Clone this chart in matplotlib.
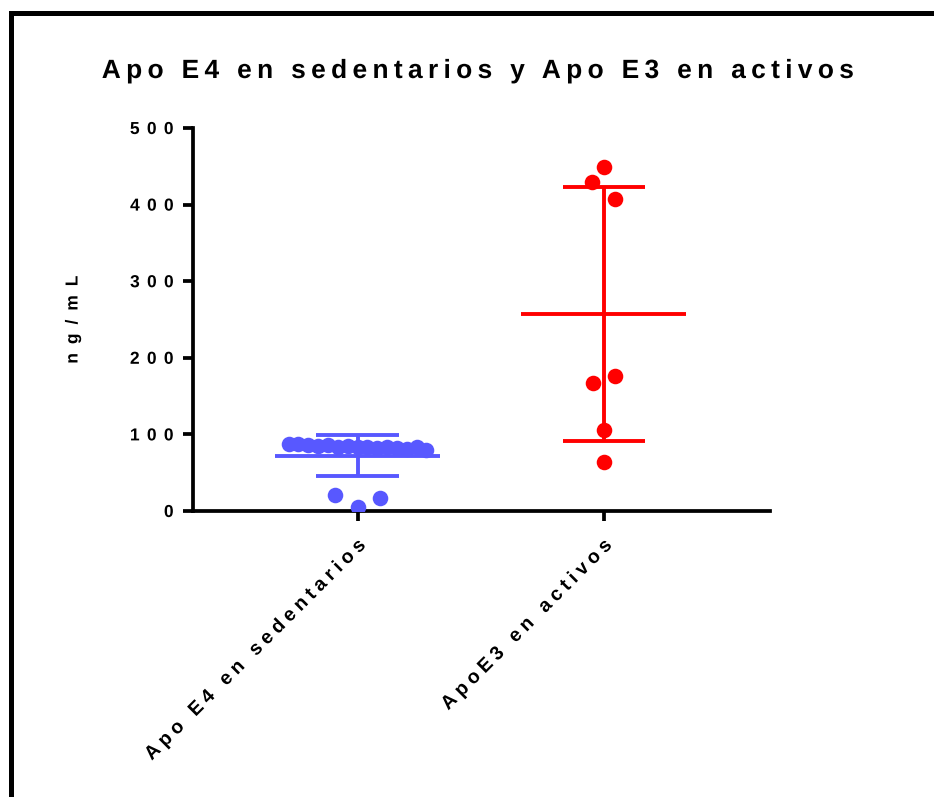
import numpy as np
import matplotlib
matplotlib.use("Agg")
import matplotlib.pyplot as plt
from matplotlib.lines import Line2D
from matplotlib.path import Path
from matplotlib.patheffects import AbstractPathEffect
from matplotlib.textpath import text_to_path
from matplotlib.font_manager import findfont, get_font

# ---------------- data ----------------
title = "Apo E4 en sedentarios y Apo E3 en activos"
ylabel = "ng/mL"
categories = ["Apo E4 en sedentarios", "ApoE3 en activos"]
sedentarios = [5.6, 16.6, 21.3,
               84, 83, 85, 82, 84, 83, 86, 82, 85, 81, 86, 84, 87, 80, 88]
activos = [64.4, 105.7, 167.5, 176.6, 449.5, 407.0, 429.5]
yticks = [0, 100, 200, 300, 400, 500]
colors = ["#5858FF", "#FF0000"]

plt.rcParams["font.family"] = ["Liberation Sans", "DejaVu Sans"]
plt.rcParams["font.weight"] = "bold"


class Tracking(AbstractPathEffect):
    """Draw a Text with extra letter spacing (tracking), keeping alignment."""

    def __init__(self, text_artist, track_px, align):
        super().__init__()
        self.t = text_artist
        self.track_px = track_px
        self.align = align

    def draw_path(self, renderer, gc, tpath, affine, rgbFace=None):
        s = self.t.get_text()
        fp = self.t.get_fontproperties()
        font = get_font(findfont(fp))
        font.set_size(text_to_path.FONT_SCALE, text_to_path.DPI)
        info, _, _ = text_to_path.get_glyphs_with_font(font, s)
        xpos = np.array([g[1] for g in info], float)
        n = len(xpos)
        fs_px = renderer.points_to_pixels(fp.get_size_in_points())
        track = self.track_px / fs_px * text_to_path.FONT_SCALE
        verts = np.array(tpath.vertices, float).copy()
        codes = tpath.codes
        if codes is None or n == 0:
            renderer.draw_path(gc, tpath, affine, rgbFace)
            return
        starts = list(np.where(codes == Path.MOVETO)[0]) + [len(verts)]
        for a, b in zip(starts[:-1], starts[1:]):
            seg = verts[a:b]
            m = codes[a:b] != Path.CLOSEPOLY
            if not m.any():
                continue
            c = 0.5 * (seg[m, 0].min() + seg[m, 0].max())
            idx = max(int(np.searchsorted(xpos, c, side="right")) - 1, 0)
            verts[a:b, 0] += track * idx
        verts[:, 0] -= track * (n - 1) * self.align
        renderer.draw_path(gc, Path(verts, codes), affine, rgbFace)


def track(text_artist, px, align):
    text_artist.set_path_effects([Tracking(text_artist, px, align)])


W, H, DPI = 934, 797, 100
fig = plt.figure(figsize=(W / DPI, H / DPI), dpi=DPI)
left, right, bottom, top = 193 / W, 770 / W, 1 - 511 / H, 1 - 128 / H
ax = fig.add_axes([left, bottom, right - left, top - bottom])

ymax = 500
ax.set_ylim(0, ymax)
ax.set_xlim(-0.668, 1.675)

px_per_unit = (top - bottom) * H / ymax
marker_px = 15.5


def swarm_offsets(vals):
    vals = np.asarray(vals, float)
    order = np.argsort(vals, kind="stable")
    groups, cur = [], [order[0]]
    for i in order[1:]:
        if (vals[i] - vals[cur[-1]]) * px_per_unit < 18:
            cur.append(i)
        else:
            groups.append(sorted(cur))
            cur = [i]
    groups.append(sorted(cur))
    offs = np.zeros(len(vals))
    for g in groups:
        spread = (vals[g].max() - vals[g].min()) * px_per_unit
        if len(g) > 3:
            step = 0.04
        elif spread < marker_px:
            step = 0.09
        else:
            step = 0.047
        seq, k = [0], 1
        while len(seq) < len(g):
            seq.append(k)
            if len(seq) < len(g):
                seq.append(-k)
            k += 1
        seq = np.array(seq, float)
        seq -= seq.mean()
        offs[g] = seq * step
    return offs


for i, (vals, c) in enumerate(zip([sedentarios, activos], colors)):
    vals = np.asarray(vals, float)
    xs = i + swarm_offsets(vals)
    ax.plot(xs, vals, "o", ms=11.2, color=c, mec="none", zorder=3)
    m = vals.mean()
    sd = vals.std(ddof=1)
    lw = 2.8
    ax.hlines(m, i - 0.335, i + 0.335, color=c, lw=lw, zorder=4)
    ax.vlines(i, m - sd, m + sd, color=c, lw=lw, zorder=4)
    ax.hlines([m - sd, m + sd], i - 0.167, i + 0.167, color=c, lw=lw, zorder=4)

for s in ["top", "right"]:
    ax.spines[s].set_visible(False)
for s in ["left", "bottom"]:
    ax.spines[s].set_linewidth(2.7)
    ax.spines[s].set_color("black")

ax.set_yticks(yticks)
ax.set_yticklabels([str(t) for t in yticks], fontsize=12.5, fontweight="bold")
ax.tick_params(axis="y", length=7, width=2.7, pad=7)
ax.set_xticks([0, 1])
ax.set_xticklabels(categories, fontsize=14, fontweight="bold", rotation=45,
                   ha="right", va="top", rotation_mode="anchor")
ax.tick_params(axis="x", length=7.5, width=2.7, pad=11)

for lab in ax.get_yticklabels():
    track(lab, 7.3, 1.0)
for lab in ax.get_xticklabels():
    track(lab, 4.7, 1.0)

yl = fig.text(73 / W, 1 - 319.5 / H, ylabel, rotation=90, ha="center", va="center",
              fontsize=12.5, fontweight="bold")
track(yl, 9.0, 0.5)
tt = fig.text(478 / W, 1 - 78 / H, title, ha="center", va="baseline",
              fontsize=19, fontweight="bold")
track(tt, 5.3, 0.5)

# outer frame (top and left edges visible)
fw = 3.6
fig.add_artist(Line2D([11 / W, 1.02], [1 - 12.5 / H, 1 - 12.5 / H], color="black",
                      lw=fw, transform=fig.transFigure, solid_capstyle="projecting"))
fig.add_artist(Line2D([11 / W, 11 / W], [1 - 12.5 / H, -0.02], color="black",
                      lw=fw, transform=fig.transFigure, solid_capstyle="projecting"))

fig.savefig("out.png", dpi=DPI)
